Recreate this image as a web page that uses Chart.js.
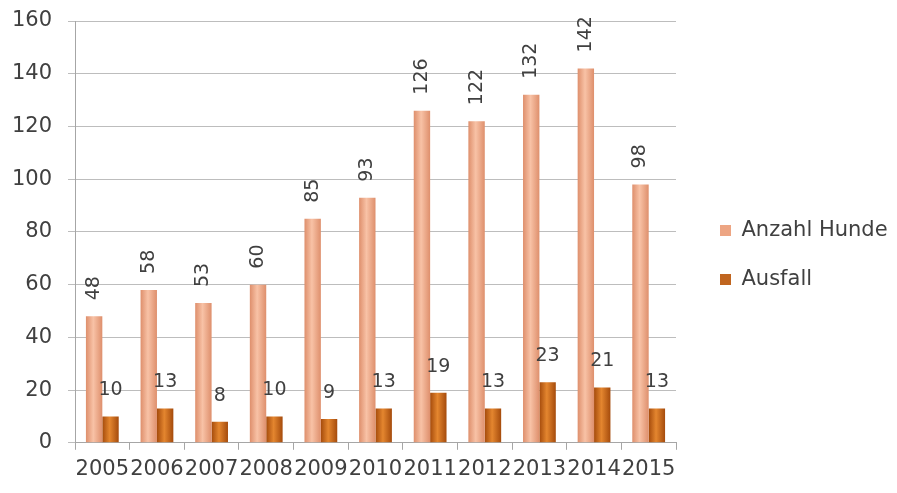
<!DOCTYPE html>
<html>
<head>
<meta charset="utf-8">
<script src="https://cdn.jsdelivr.net/npm/chart.js@4"></script>
<style>
  html, body { margin: 0; padding: 0; background: #fff; }
  #wrap { width: 897px; height: 493px; }
</style>
</head>
<body>
<div id="wrap"><canvas id="chart"></canvas></div>
<script>
const years = ['2005', '2006', '2007', '2008', '2009', '2010', '2011', '2012', '2013', '2014', '2015'];
const anzahlHunde = [48, 58, 53, 60, 85, 93, 126, 122, 132, 142, 98];
const ausfall = [10, 13, 8, 10, 9, 13, 19, 13, 23, 21, 13];
const yTicks = [0, 20, 40, 60, 80, 100, 120, 140, 160];

const FONT = '"DejaVu Sans", "Noto Sans", sans-serif';
const TEXT = '#404040';

// horizontal gradient so the bars look a bit like cylinders
function cylinder(edge, mid, solid) {
    return (context) => {
        const chart = context.chart;
        const xs = chart.scales && chart.scales.x;
        if (!xs || context.dataIndex === undefined) return solid;
        const center = xs.getPixelForValue(context.dataIndex);
        const w = (xs.width / years.length) * 0.6 / 2;
        const left = context.datasetIndex === 0 ? center - w : center;
        if (!Number.isFinite(left) || !Number.isFinite(w) || w <= 0) return solid;
        const g = chart.ctx.createLinearGradient(left, 0, left + w, 0);
        g.addColorStop(0, edge);
        g.addColorStop(0.45, mid);
        g.addColorStop(1, edge);
        return g;
    };
}

const valueLabels = {
    id: 'valueLabels',
    afterDatasetsDraw(chart) {
        const ctx = chart.ctx;
        chart.data.datasets.forEach((ds, i) => {
            const meta = chart.getDatasetMeta(i);
            meta.data.forEach((bar, j) => {
                ctx.save();
                ctx.font = '19px ' + FONT;
                ctx.fillStyle = TEXT;
                if (i === 0) {
                    ctx.translate(bar.x, bar.y - 16);
                    ctx.rotate(-Math.PI / 2);
                    ctx.textAlign = 'left';
                    ctx.textBaseline = 'middle';
                    ctx.fillText(ds.data[j], 0, 0);
                } else {
                    ctx.textAlign = 'center';
                    ctx.textBaseline = 'middle';
                    ctx.fillText(ds.data[j], bar.x, bar.y - 26);
                }
                ctx.restore();
            });
        });
    }
};

const solidColors = ['#EDA583', '#C0651F'];

new Chart(document.getElementById('chart'), {
    type: 'bar',
    data: {
        labels: years,
        datasets: [{
            label: 'Anzahl Hunde',
            data: anzahlHunde,
            backgroundColor: cylinder('#DE8F6C', '#F8C2A6', solidColors[0]),
            categoryPercentage: 0.6,
            barPercentage: 1.0
        }, {
            label: 'Ausfall',
            data: ausfall,
            backgroundColor: cylinder('#A54B0C', '#E4862F', solidColors[1]),
            categoryPercentage: 0.6,
            barPercentage: 1.0
        }]
    },
    options: {
        responsive: true,
        maintainAspectRatio: false,
        animation: false,
        layout: { padding: { left: 12, top: 21, right: 0, bottom: 4 } },
        plugins: {
            tooltip: { enabled: false },
            legend: {
                position: 'right',
                maxWidth: 205,
                labels: {
                    boxWidth: 11,
                    boxHeight: 11,
                    padding: 28,
                    color: TEXT,
                    font: { family: FONT, size: 21 },
                    generateLabels(chart) {
                        const items = Chart.defaults.plugins.legend.labels.generateLabels(chart);
                        items.forEach((it, k) => {
                            it.fillStyle = solidColors[k];
                            it.strokeStyle = solidColors[k];
                            it.lineWidth = 0;
                        });
                        return items;
                    }
                }
            }
        },
        scales: {
            x: {
                grid: {
                    display: true,
                    drawOnChartArea: false,
                    tickLength: 7,
                    color: '#A6A6A6'
                },
                border: { color: '#A6A6A6' },
                ticks: {
                    autoSkip: false,
                    maxRotation: 0,
                    color: TEXT,
                    padding: 7,
                    font: { family: FONT, size: 21 }
                }
            },
            y: {
                min: 0,
                max: 160,
                afterBuildTicks(axis) {
                    axis.ticks = yTicks.map(v => ({ value: v }));
                },
                afterFit(axis) {
                    axis.width = 63;
                    axis.paddingTop = 0;
                    axis.paddingBottom = 0;
                },
                grid: { color: '#BDBDBD', tickLength: 7 },
                border: { color: '#A6A6A6' },
                ticks: {
                    color: TEXT,
                    padding: 16,
                    font: { family: FONT, size: 21 }
                }
            },
            // empty space between the plot and the legend
            gap: {
                type: 'linear',
                position: 'right',
                display: true,
                grid: { display: false },
                border: { display: false },
                ticks: { display: false },
                afterFit(axis) { axis.width = 16; }
            }
        }
    },
    plugins: [valueLabels]
});
</script>
</body>
</html>
